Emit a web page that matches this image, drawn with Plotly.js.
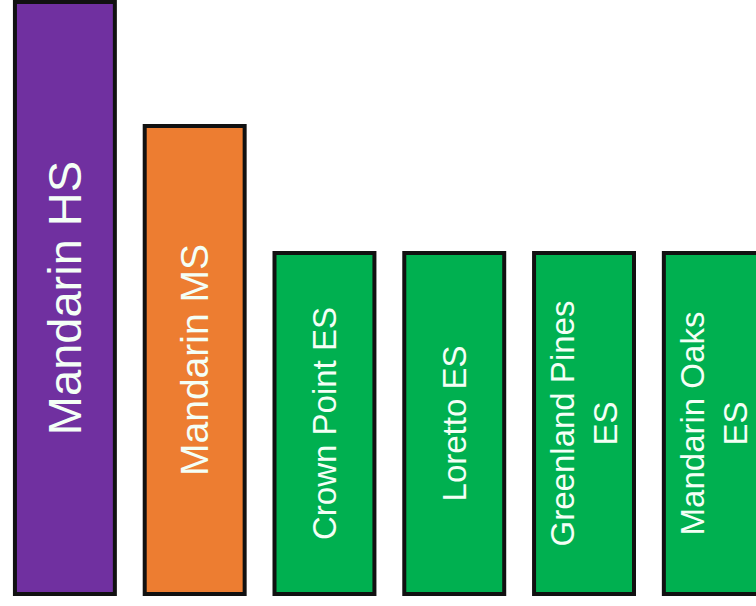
<!DOCTYPE html>
<html>
<head>
<meta charset="utf-8">
<script src="https://cdn.plot.ly/plotly-3.0.1.min.js"></script>
<style>html,body{margin:0;padding:0;background:#fff;}#chart{width:756px;height:606px;}</style>
</head>
<body>
<div id="chart"></div>
<script>
var schools = ["Mandarin HS", "Mandarin MS", "Crown Point ES", "Loretto ES", "Greenland Pines<br>ES", "Mandarin Oaks<br>ES"];
var levels = [592, 468, 341, 341, 341, 341];
var barColors = ["#7030a0", "#ed7d31", "#00b050", "#00b050", "#00b050", "#00b050"];
var labelSizes = [47, 39, 33, 33, 33, 33];

var trace = {
  type: "bar",
  x: schools.map(function(s, i){ return i; }),
  y: levels,
  text: schools,
  textposition: "inside",
  insidetextanchor: "middle",
  textangle: -90,
  constraintext: "none",
  textfont: {family: "Liberation Sans, Arial, sans-serif", size: labelSizes, color: "#f4fff6"},
  width: 0.77,
  marker: {color: barColors, line: {color: "#111111", width: 4}},
  hoverinfo: "none"
};

var layout = {
  width: 756, height: 606,
  margin: {l: 0, r: 0, t: 0, b: 0, pad: 0},
  paper_bgcolor: "#ffffff", plot_bgcolor: "#ffffff",
  showlegend: false,
  xaxis: {range: [-0.5, 5.325], visible: false, fixedrange: true},
  yaxis: {range: [-12, 594], visible: false, fixedrange: true}
};

Plotly.newPlot("chart", [trace], layout, {staticPlot: true, displayModeBar: false});
</script>
</body>
</html>
